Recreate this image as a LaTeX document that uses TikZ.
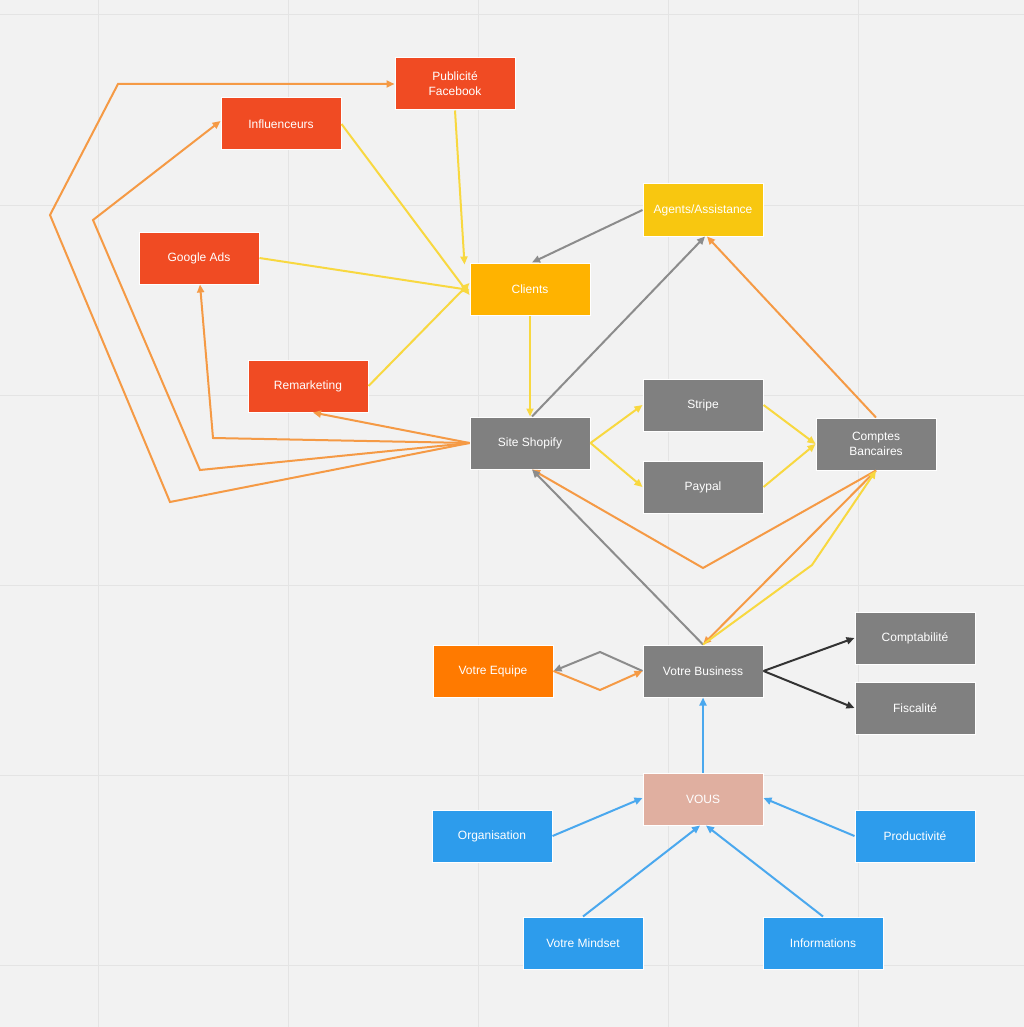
\documentclass[tikz,border=0pt]{standalone}
\usepackage{fontspec}
\setmainfont{Liberation Sans}
\usetikzlibrary{arrows.meta}
\definecolor{bg}{HTML}{F2F2F2}
\definecolor{gridc}{HTML}{E4E4E4}
\definecolor{red1}{HTML}{F04B23}
\definecolor{amber}{HTML}{FFB300}
\definecolor{gold}{HTML}{F8C710}
\definecolor{grayb}{HTML}{808080}
\definecolor{orng}{HTML}{FF7A00}
\definecolor{pinkb}{HTML}{E0AFA0}
\definecolor{blueb}{HTML}{2D9CEC}
\definecolor{lor}{HTML}{F59A45}
\definecolor{lye}{HTML}{F8D840}
\definecolor{lgr}{HTML}{8C8C8C}
\definecolor{lbl}{HTML}{4AA8EE}
\begin{document}
\begin{tikzpicture}[x=1pt,y=-1pt,
 box/.style={draw=white,line width=1pt,minimum width=120pt,minimum height=52pt,text=white,font=\fontsize{12}{15}\selectfont,align=center,inner sep=2pt},
 ar/.style={line width=2pt,-{Triangle[length=8pt,width=7pt]}},
 lo/.style={ar,draw=lor,color=lor},
 ly/.style={ar,draw=lye,color=lye},
 lg/.style={ar,draw=lgr,color=lgr},
 lk/.style={ar,draw=black!80,color=black!80},
 lb/.style={ar,draw=lbl,color=lbl}]
\useasboundingbox (0,0) rectangle (1024,1027);
\fill[bg] (0,0) rectangle (1024,1027);
\foreach \x in {98,288,478,668,858} \draw[gridc,line width=1pt] (\x,0) -- (\x,1027);
\foreach \y in {15,205,395,585,775,965} \draw[gridc,line width=1pt] (0,\y) -- (1024,\y);

\node[box,fill=red1] (fb) at (455,84) {Publicité\\Facebook};
\node[box,fill=red1] (inf) at (281,124) {Influenceurs};
\node[box,fill=red1] (ga) at (199,258) {Google Ads};
\node[box,fill=red1] (rm) at (308,386) {Remarketing};
\node[box,fill=amber] (cl) at (530,289) {Clients};
\node[box,fill=gold] (ag) at (703,210) {Agents/Assistance};
\node[box,fill=grayb] (sh) at (530,443) {Site Shopify};
\node[box,fill=grayb] (st) at (703,405) {Stripe};
\node[box,fill=grayb] (pp) at (703,487) {Paypal};
\node[box,fill=grayb] (cb) at (876,444) {Comptes\\Bancaires};
\node[box,fill=orng] (eq) at (493,671) {Votre Equipe};
\node[box,fill=grayb] (bu) at (703,671) {Votre Business};
\node[box,fill=grayb] (co) at (915,638) {Comptabilité};
\node[box,fill=grayb] (fi) at (915,708) {Fiscalité};
\node[box,fill=pinkb] (vo) at (703,799) {VOUS};
\node[box,fill=blueb] (or) at (492,836) {Organisation};
\node[box,fill=blueb] (pr) at (915,836) {Productivité};
\node[box,fill=blueb] (mi) at (583,943) {Votre Mindset};
\node[box,fill=blueb] (in) at (823,943) {Informations};

\coordinate (s1) at (213,438); \coordinate (s2) at (200,470); \coordinate (s3) at (93,220);
\coordinate (s4) at (170,502); \coordinate (s5) at (50,215); \coordinate (s6) at (118,84);
\coordinate (v1) at (703,568); \coordinate (v2) at (812,565);
\coordinate (e1) at (600,652); \coordinate (e2) at (600,690);

\draw[lo] (sh.west) -- ([xshift=5pt]rm.south);
\draw[lo] (sh.west) -- (s1) -- ([xshift=1pt]ga.south);
\draw[lo] (sh.west) -- (s2) -- (s3) -- ([yshift=3pt]inf.west);
\draw[lo] (sh.west) -- (s4) -- (s5) -- (s6) -- (fb.west);

\draw[ly] (inf.east) -- ([yshift=-6pt]cl.west);
\draw[ly] (fb.south) -- ([xshift=-5pt,yshift=-2pt]cl.north west);
\draw[ly] (ga.east) -- ([yshift=-1pt]cl.west);
\draw[ly] (rm.east) -- ([yshift=6pt]cl.west);
\draw[ly] (cl.south) -- (sh.north);

\draw[lg] (ag.west) -- ([xshift=2pt]cl.north);
\draw[lg] ([xshift=2pt]sh.north) -- ([xshift=2pt]ag.south);
\draw[lo] (cb.north) -- ([xshift=4pt]ag.south);

\draw[ly] (sh.east) -- (st.west);
\draw[ly] (sh.east) -- (pp.west);
\draw[ly] (st.east) -- (cb.west);
\draw[ly] (pp.east) -- (cb.west);

\draw[lo] (cb.south) -- (v1) -- ([xshift=2pt]sh.south);
\draw[lg] (bu.north) -- ([xshift=2pt]sh.south);
\draw[lo] (cb.south) -- (bu.north);
\draw[ly] (bu.north) -- (v2) -- (cb.south);

\draw[lg] (bu.west) -- (e1) -- (eq.east);
\draw[lo] (eq.east) -- (e2) -- (bu.west);
\draw[lk] (bu.east) -- (co.west);
\draw[lk] (bu.east) -- (fi.west);

\draw[lb] (vo.north) -- (bu.south);
\draw[lb] (or.east) -- ([yshift=1pt]vo.west);
\draw[lb] (pr.west) -- ([yshift=1pt]vo.east);
\draw[lb] (mi.north) -- ([xshift=-3pt]vo.south);
\draw[lb] (in.north) -- ([xshift=3pt]vo.south);
\end{tikzpicture}
\end{document}
